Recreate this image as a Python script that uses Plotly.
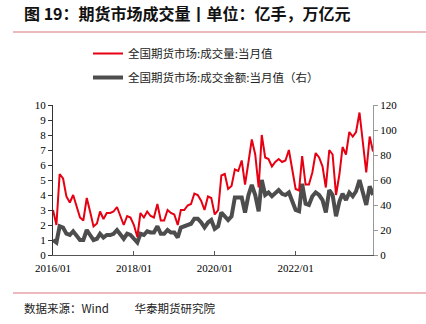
import pandas as pd
import plotly.graph_objects as go

months = pd.date_range("2016-01-01", "2023-12-01", freq="MS")

volume = [  # 亿手, left axis
    3.0, 2.0, 5.4, 5.1, 3.9, 3.5, 4.0, 3.2, 2.5, 2.3, 3.8, 2.9,
    1.9, 2.1, 2.9, 2.4, 2.8, 2.8, 2.9, 3.2, 2.6, 2.0, 2.6, 2.5,
    2.0, 1.2, 2.8, 2.5, 2.9, 2.6, 2.5, 3.4, 2.3, 2.3, 3.0, 2.8,
    2.7, 2.0, 3.0, 3.0, 3.3, 3.4, 4.1, 4.0, 3.6, 3.0, 3.9, 3.8,
    2.7, 3.0, 5.3, 5.4, 4.4, 4.6, 5.7, 5.6, 6.3, 4.7, 6.2, 7.7,
    6.7, 4.5, 8.0, 6.5, 6.4, 5.9, 6.2, 6.4, 6.2, 6.3, 7.0, 5.6,
    4.4, 4.3, 6.6, 4.7, 4.7, 5.5, 6.8, 6.5, 5.9, 4.5, 7.0, 6.7,
    4.0, 5.4, 7.2, 6.7, 8.2, 7.9, 8.2, 9.5, 7.6, 5.5, 7.9, 6.9,
]

turnover = [  # 万亿元, right axis
    12, 10, 23, 22, 17, 16, 19, 16, 12, 12, 20, 16,
    12, 13, 17, 14, 16, 16, 17, 20, 17, 13, 17, 16,
    13, 10, 17, 16, 19, 18, 18, 23, 17, 17, 20, 18,
    18, 14, 22, 23, 24, 25, 29, 29, 26, 22, 26, 28,
    21, 23, 34, 31, 28, 31, 46, 46, 46, 34, 48, 56,
    48, 35, 60, 48, 50, 47, 50, 52, 49, 48, 50, 43,
    36, 35, 57, 41, 40, 47, 50, 48, 44, 34, 52, 48,
    31, 43, 49, 44, 50, 47, 51, 60, 51, 40, 55, 48,
]

name_vol = "全国期货市场:成交量:当月值"
name_amt = "全国期货市场:成交金额:当月值（右）"
title_text = "<b>图 19：期货市场成交量丨单位：亿手，万亿元</b>"
source_text = "数据来源：Wind　　 华泰期货研究院"

W, H = 426, 324
L, R, T, B = 53, 53, 105, 69
pw, ph = W - L - R, H - T - B

def px(xp):
    return (xp - L) / pw

def py(yp):
    return (H - B - yp) / ph

serif = "Liberation Serif, Times New Roman, serif"
cjk = "Noto Sans CJK SC, sans-serif"

fig = go.Figure()
fig.add_trace(go.Scatter(
    x=months, y=turnover, name=name_amt, mode="lines",
    line=dict(color="#4d4d4d", width=4), yaxis="y", legendrank=2,
    legendgroup="amt",
))
fig.add_trace(go.Scatter(
    x=months, y=volume, name=name_vol, mode="lines",
    line=dict(color="#e60012", width=2), yaxis="y2", legendrank=1,
    legendgroup="vol",
))

fig.update_layout(
    width=W, height=H,
    margin=dict(l=L, r=R, t=T, b=B),
    paper_bgcolor="white", plot_bgcolor="white",
    showlegend=True,
    legend=dict(
        x=px(88), y=py(39), xanchor="left", yanchor="top",
        font=dict(family=cjk, size=11.5, color="#222"),
        bgcolor="rgba(0,0,0,0)", tracegroupgap=5,
    ),
    xaxis=dict(
        range=[months[0], months[-1]],
        tickformat="%Y/%m", dtick="M24", tick0="2016-01-01",
        showgrid=False, zeroline=False,
        showline=True, linecolor="#555", linewidth=1,
        ticks="inside", ticklen=4, tickcolor="#555",
        ticklabelstandoff=3,
        tickfont=dict(family=serif, size=11, color="#000"),
    ),
    yaxis=dict(
        side="right", range=[0, 120], dtick=20,
        showgrid=False, zeroline=False,
        showline=True, linecolor="#999", linewidth=1,
        ticks="outside", ticklen=4, tickcolor="#999",
        tickfont=dict(family=serif, size=11, color="#000"),
    ),
    yaxis2=dict(
        side="left", overlaying="y", range=[0, 10], dtick=1,
        showgrid=False, zeroline=False,
        showline=True, linecolor="#333", linewidth=1,
        ticks="outside", ticklen=4, tickcolor="#333",
        tickfont=dict(family=serif, size=11, color="#000"),
    ),
    shapes=[
        dict(type="line", xref="paper", yref="paper",
             x0=px(13), x1=px(426), y0=py(32), y1=py(32),
             line=dict(color="#d9777a", width=1.2)),
        dict(type="line", xref="paper", yref="paper",
             x0=px(13), x1=px(426), y0=py(293), y1=py(293),
             line=dict(color="#d9777a", width=1.2)),
    ],
    annotations=[
        dict(text=title_text, xref="paper", yref="paper",
             x=px(22), y=py(13), xanchor="left", yanchor="middle",
             showarrow=False, font=dict(family=cjk, size=16, color="#111")),
        dict(text=source_text, xref="paper", yref="paper",
             x=px(22), y=py(308), xanchor="left", yanchor="middle",
             showarrow=False, font=dict(family=cjk, size=11.5, color="#222")),
    ],
)

fig.write_html("out.html")
